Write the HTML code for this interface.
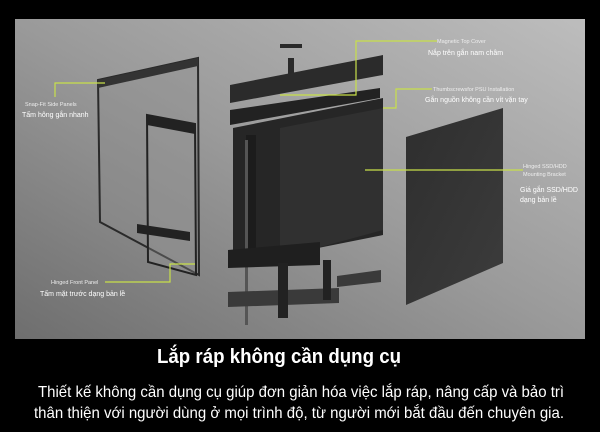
<!DOCTYPE html>
<html><head><meta charset="utf-8"><style>
html,body{margin:0;padding:0;background:#000;width:600px;height:432px;overflow:hidden}
svg{display:block}
text{font-family:"Liberation Sans","DejaVu Sans",sans-serif}
</style></head><body>
<svg width="600" height="432" viewBox="0 0 600 432" xmlns="http://www.w3.org/2000/svg">
<defs>
<linearGradient id="bg" x1="0" y1="1" x2="1" y2="0">
<stop offset="0" stop-color="#6e6e6e"/><stop offset="0.5" stop-color="#9a9a9a"/><stop offset="1" stop-color="#bdbdbd"/>
</linearGradient>
<linearGradient id="pn" x1="0" y1="0" x2="1" y2="1">
<stop offset="0" stop-color="#2e2e2e"/><stop offset="1" stop-color="#3c3c3c"/>
</linearGradient>
</defs>
<rect x="0" y="0" width="600" height="432" fill="#000"/>
<rect x="15" y="19" width="570" height="320" fill="url(#bg)"/>
<!-- side panel -->
<polygon points="98,80 198,58 199,275 100,222" fill="#8c8c8c" fill-opacity="0.35" stroke="#2a2a2a" stroke-width="2"/>
<polygon points="98,80 198,58 198,66 98,88" fill="#333"/>
<!-- front panel -->
<polygon points="147,115 195,124 196,275 148,262" fill="#999" fill-opacity="0.3" stroke="#222" stroke-width="2"/>
<polygon points="147,115 195,124 195,134 147,125" fill="#222"/>
<polygon points="137,224 190,232 190,241 137,233" fill="#222"/>
<!-- chassis -->
<rect x="280" y="44" width="22" height="4" fill="#2a2a2a"/>
<rect x="288" y="58" width="6" height="22" fill="#2a2a2a"/>
<polygon points="230,85 383,55 383,75 230,103" fill="#2b2b2b"/>
<polygon points="230,110 380,88 380,98 230,125" fill="#222"/>
<polygon points="233,128 383,98 383,235 233,265" fill="#262626"/>
<polygon points="280,128 383,108 383,230 280,258" fill="#303030"/>
<rect x="246" y="135" width="10" height="125" fill="#1c1c1c"/>
<rect x="245" y="140" width="3" height="185" fill="#555"/>
<polygon points="228,250 320,242 320,265 228,268" fill="#1f1f1f"/>
<!-- feet -->
<polygon points="228,292 339,288 339,303 228,307" fill="#3a3a3a"/>
<polygon points="337,276 381,270 381,282 337,287" fill="#3a3a3a"/>
<rect x="278" y="263" width="10" height="55" fill="#222"/>
<rect x="323" y="260" width="8" height="40" fill="#222"/>
<!-- right panel -->
<polygon points="406,137 503,108 503,263 406,305" fill="url(#pn)"/>
<!-- callout lines -->
<g stroke="#c8e04a" stroke-width="1.2" fill="none">
<polyline points="437,41 356,41 356,95 280,95"/>
<polyline points="432,89 396,89 396,108 383,108"/>
<polyline points="105,83 55,83 55,97"/>
<polyline points="523,170 365,170"/>
<polyline points="105,282 170,282 170,264 195,264"/>
</g>
<g fill="#fff">
<text x="437" y="43" font-size="5.5" fill="#eee">Magnetic Top Cover</text>
<text x="428" y="55" font-size="7">Nắp trên gắn nam châm</text>
<text x="433" y="91" font-size="5.5" fill="#eee">Thumbscrewsfor PSU Installation</text>
<text x="425" y="102" font-size="7">Gắn nguồn không cần vít vặn tay</text>
<text x="25" y="106" font-size="5.5" fill="#eee">Snap-Fit Side Panels</text>
<text x="22" y="117" font-size="7">Tấm hông gắn nhanh</text>
<text x="523" y="168" font-size="5.5" fill="#eee">Hinged SSD/HDD</text>
<text x="523" y="176" font-size="5.5" fill="#eee">Mounting Bracket</text>
<text x="520" y="192" font-size="7">Giá gắn SSD/HDD</text>
<text x="520" y="202" font-size="7">dạng bản lề</text>
<text x="51" y="284" font-size="5.5" fill="#eee">Hinged Front Panel</text>
<text x="40" y="296" font-size="7">Tấm mặt trước dạng bản lề</text>
<text x="157" y="363" font-size="20" font-weight="bold" textLength="244" lengthAdjust="spacingAndGlyphs">Lắp ráp không cần dụng cụ</text>
<text x="38" y="397" font-size="16" textLength="526" lengthAdjust="spacingAndGlyphs">Thiết kế không cần dụng cụ giúp đơn giản hóa việc lắp ráp, nâng cấp và bảo trì</text>
<text x="34" y="418" font-size="16" textLength="530" lengthAdjust="spacingAndGlyphs">thân thiện với người dùng ở mọi trình độ, từ người mới bắt đầu đến chuyên gia.</text>
</g>
</svg>
</body></html>
